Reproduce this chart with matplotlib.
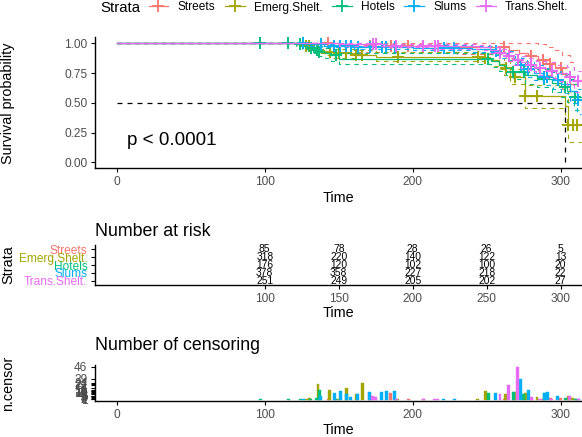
import numpy as np
import matplotlib
matplotlib.use('Agg')
import matplotlib.pyplot as plt
from matplotlib.lines import Line2D

plt.rcParams['font.family'] = ['Liberation Sans', 'DejaVu Sans']

strata = ['Streets', 'Emerg.Shelt.', 'Hotels', 'Slums', 'Trans.Shelt.']
colors = ['#F8766D', '#A3A500', '#00BF7D', '#00B0F6', '#E76BF3']

# ---- Kaplan-Meier step estimates ----
streets_t = [0, 150, 160, 230, 265, 272, 278, 285, 290, 296, 301, 306]
streets_s = [1, 0.985, 0.975, 0.965, 0.94, 0.915, 0.89, 0.86, 0.83, 0.79, 0.74, 0.66]
streets_hi = [1, 1, 1, 1, 1, 1, 1, 0.99, 0.97, 0.94, 0.90, 0.84]
streets_lo = [1, 0.95, 0.93, 0.91, 0.88, 0.85, 0.81, 0.77, 0.73, 0.68, 0.62, 0.52]

emerg_t = [0, 122, 127, 131, 135, 140, 146, 160, 175, 248, 253, 258, 262, 266, 276, 303, 305]
emerg_s = [1, 0.99, 0.975, 0.96, 0.945, 0.93, 0.915, 0.90, 0.888, 0.875, 0.86, 0.83, 0.79, 0.72, 0.56, 0.47, 0.31]
emerg_hi = [1, 1, 0.99, 0.98, 0.97, 0.96, 0.95, 0.94, 0.93, 0.92, 0.91, 0.88, 0.85, 0.78, 0.65, 0.60, 0.50]
emerg_lo = [1, 0.98, 0.96, 0.94, 0.92, 0.90, 0.88, 0.865, 0.85, 0.83, 0.81, 0.78, 0.73, 0.66, 0.46, 0.34, 0.17]

hotels_t = [0, 121, 125, 129, 133, 137, 141, 145, 150, 253, 258, 263, 268, 276, 284, 294, 300, 304, 309]
hotels_s = [1, 0.99, 0.975, 0.96, 0.945, 0.93, 0.915, 0.90, 0.87, 0.85, 0.82, 0.79, 0.76, 0.73, 0.70, 0.67, 0.63, 0.60, 0.55]
hotels_hi = [1, 1, 1, 0.99, 0.98, 0.97, 0.96, 0.95, 0.92, 0.91, 0.89, 0.86, 0.84, 0.81, 0.78, 0.76, 0.73, 0.70, 0.66]
hotels_lo = [1, 0.975, 0.955, 0.935, 0.915, 0.895, 0.875, 0.855, 0.825, 0.80, 0.77, 0.73, 0.70, 0.66, 0.63, 0.59, 0.55, 0.51, 0.44]

slums_t = [0, 128, 140, 160, 200, 240, 255, 260, 265, 269, 273, 277, 282, 288, 295, 300, 306, 311]
slums_s = [1, 0.99, 0.98, 0.97, 0.96, 0.95, 0.935, 0.915, 0.89, 0.86, 0.82, 0.78, 0.75, 0.72, 0.69, 0.66, 0.60, 0.52]
slums_hi = [1, 1, 0.995, 0.99, 0.985, 0.98, 0.97, 0.955, 0.935, 0.91, 0.88, 0.84, 0.82, 0.79, 0.77, 0.74, 0.69, 0.62]
slums_lo = [1, 0.98, 0.965, 0.95, 0.94, 0.925, 0.905, 0.88, 0.85, 0.815, 0.77, 0.72, 0.69, 0.65, 0.62, 0.58, 0.50, 0.41]

trans_t = [0, 150, 180, 210, 245, 252, 258, 263, 268, 273, 278, 283, 290, 297, 304, 309]
trans_s = [1, 0.99, 0.98, 0.975, 0.965, 0.945, 0.92, 0.89, 0.86, 0.84, 0.82, 0.79, 0.77, 0.75, 0.72, 0.68]
trans_hi = [1, 1, 0.995, 0.99, 0.985, 0.97, 0.95, 0.93, 0.91, 0.89, 0.875, 0.85, 0.84, 0.82, 0.80, 0.77]
trans_lo = [1, 0.98, 0.965, 0.955, 0.945, 0.92, 0.89, 0.855, 0.82, 0.79, 0.77, 0.73, 0.71, 0.68, 0.65, 0.59]

followup_end = [312, 314, 314, 314, 314]

# ---- censoring (time, n.censor) ----
streets_ct = [143, 171, 185, 197, 207, 262, 280, 288, 293, 300]
streets_cn = [2, 10, 10, 2, 2, 2, 3, 2, 3, 3]
emerg_ct = [128, 130, 136, 144, 150, 155, 162, 166, 190, 244, 249, 263, 269, 276, 284, 305, 308, 311]
emerg_cn = [1, 3, 22, 14, 2, 16, 8, 24, 1, 2, 12, 8, 11, 10, 4, 6, 3, 2]
hotels_ct = [97, 116, 124, 131, 135, 137, 148, 251, 268, 275, 289, 303, 310]
hotels_cn = [1, 1, 2, 2, 3, 14, 2, 10, 11, 8, 9, 3, 1]
slums_ct = [126, 138, 147, 151, 155, 158, 163, 171, 179, 182, 188, 221, 228, 256, 273, 278, 289, 291, 298, 312]
slums_cn = [2, 5, 9, 12, 8, 4, 8, 11, 11, 13, 12, 2, 1, 10, 29, 14, 10, 11, 5, 2]
trans_ct = [173, 175, 189, 207, 215, 217, 259, 265, 271, 280, 286, 294, 306, 312]
trans_cn = [6, 4, 2, 2, 2, 2, 8, 21, 46, 4, 2, 2, 5, 2]

# ---- number at risk ----
risk_times = [100, 150, 200, 250, 300]
risk_streets = [85, 78, 28, 26, 5]
risk_emerg = [318, 220, 140, 122, 13]
risk_hotels = [176, 120, 102, 100, 20]
risk_slums = [378, 358, 227, 218, 22]
risk_trans = [251, 249, 205, 202, 27]

pval_text = 'p < 0.0001'

km = [(streets_t, streets_s, streets_lo, streets_hi),
      (emerg_t, emerg_s, emerg_lo, emerg_hi),
      (hotels_t, hotels_s, hotels_lo, hotels_hi),
      (slums_t, slums_s, slums_lo, slums_hi),
      (trans_t, trans_s, trans_lo, trans_hi)]
cens = [(streets_ct, streets_cn), (emerg_ct, emerg_cn), (hotels_ct, hotels_cn),
        (slums_ct, slums_cn), (trans_ct, trans_cn)]
risks = [risk_streets, risk_emerg, risk_hotels, risk_slums, risk_trans]

W, H = 582, 437
fig = plt.figure(figsize=(W / 100, H / 100), dpi=100)
L = 95 / W
AW = (582 - 95) / W
XL = (-14.7, 314.4)
tickc = '#4D4D4D'
YLX = (8.5 - 95) / 487


def style(ax):
    for s in ['top', 'right']:
        ax.spines[s].set_visible(False)
    for s in ['left', 'bottom']:
        ax.spines[s].set_linewidth(1.0)
        ax.spines[s].set_color('black')
    ax.tick_params(direction='out', length=2.6, width=0.8, color='black',
                   labelsize=8.6, labelcolor=tickc, pad=2.8)
    ax.set_xlim(*XL)


def set_labels(ax, ylabel, xlabel_y_px, top_px, bot_px):
    ax.set_ylabel(ylabel, fontsize=10.4, va='center')
    ax.yaxis.set_label_coords(YLX, 0.5)
    ax.set_xlabel('Time', fontsize=10.4, va='center')
    ax.xaxis.set_label_coords(0.5, -(xlabel_y_px - bot_px) / (bot_px - top_px))


# ---------- main survival plot ----------
ax1 = fig.add_axes([L, 1 - 168.25 / H, AW, (168.25 - 37.35) / H])
style(ax1)
ax1.set_ylim(-0.05, 1.05)

medians = []
for (t, s, lo, hi), end, c, (ct, cn) in zip(km, followup_end, colors, cens):
    t = np.asarray(t, float)
    s = np.asarray(s, float)
    tt = np.r_[t, end]
    for band in (lo, hi):
        b = np.asarray(band, float)
        ax1.step(tt, np.r_[b, b[-1]], where='post', color=c, lw=0.8,
                 ls=(0, (4, 4)))
    ax1.step(tt, np.r_[s, s[-1]], where='post', color=c, lw=0.9)
    ct = np.asarray(ct, float)
    idx = np.searchsorted(t, ct, side='right') - 1
    ax1.plot(ct, s[idx], ls='none', marker='+', ms=8.5, mew=1.4, color=c)
    below = np.where(s <= 0.5)[0]
    if len(below):
        medians.append(t[below[0]])

if medians:
    m = max(medians)
    ax1.plot([0, m], [0.5, 0.5], color='black', lw=0.9, ls=(0, (4, 4)))
    for mm in medians:
        ax1.plot([mm, mm], [0, 0.5], color='black', lw=0.9, ls=(0, (4, 4)))

ax1.text(6.8, 0.187, pval_text, fontsize=13.6, ha='left', va='center')
ax1.set_xticks([0, 100, 200, 300])
ax1.set_yticks([0, 0.25, 0.5, 0.75, 1.0])
ax1.set_yticklabels(['0.00', '0.25', '0.50', '0.75', '1.00'])
set_labels(ax1, 'Survival probability', 198, 37.35, 168.25)

# legend
fig.text(100 / W, 1 - 7.5 / H, 'Strata', fontsize=10.8, ha='left', va='center')
handles = [Line2D([], [], color=c, lw=0.9, marker='+', ms=8, mew=1.3) for c in colors]
fig.legend(handles, strata, loc='center left', bbox_to_anchor=(148.5 / W, 1 - 7.5 / H),
           ncol=5, frameon=False, fontsize=8.6, handlelength=1.67, handletextpad=0.78,
           columnspacing=0.78, borderpad=0, borderaxespad=0)

# ---------- risk table ----------
ax2 = fig.add_axes([L, 1 - 285.4 / H, AW, 40.8 / H])
style(ax2)
nrow = len(strata)
rows = np.arange(nrow, 0, -1)
ax2.set_ylim(0.4, nrow + 0.6)
for r, vals in zip(rows, risks):
    for x, v in zip(risk_times, vals):
        ax2.text(x, r, str(v), ha='center', va='center', fontsize=7.4, color='black')
ax2.set_yticks(rows)
ax2.set_yticklabels(strata)
for lab, c in zip(ax2.get_yticklabels(), colors):
    lab.set_color(c)
ax2.set_xticks(risk_times)
set_labels(ax2, 'Strata', 313, 244.6, 285.4)
fig.text(L, 1 - 232 / H, 'Number at risk', fontsize=12.8, ha='left', va='center')

# ---------- censoring plot ----------
ax3 = fig.add_axes([L, 1 - 401 / H, AW, 36 / H])
style(ax3)
ax3.set_ylim(-1.4, 48.3)
allc = []
for (ct, cn), c in zip(cens, colors):
    ax3.bar(ct, cn, width=2.0, color=c, edgecolor=c, linewidth=0.3)
    allc += list(cn)
ax3.set_yticks(sorted(set(allc)))
ax3.set_xticks([0, 100, 200, 300])
set_labels(ax3, 'n.censor', 429.5, 365, 401)
fig.text(L, 1 - 346 / H, 'Number of censoring', fontsize=12.8, ha='left', va='center')

fig.savefig('out.png', dpi=100)
